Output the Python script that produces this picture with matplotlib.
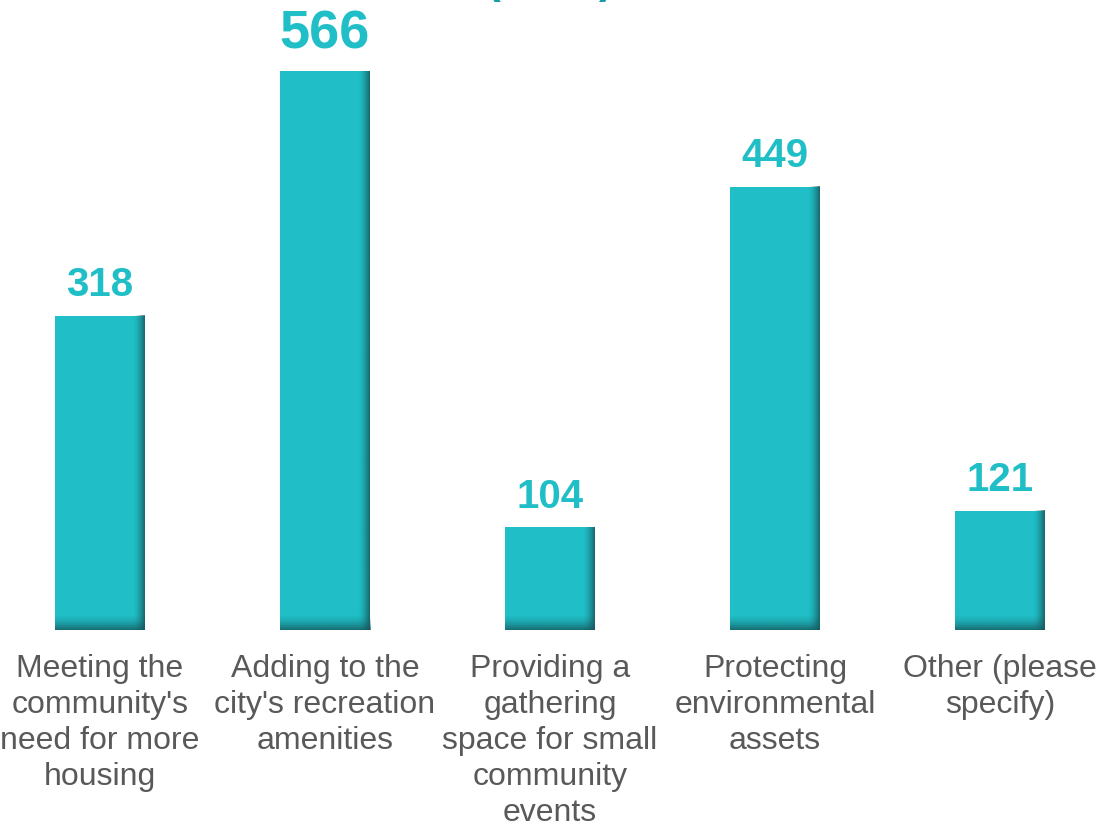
import numpy as np
import matplotlib
matplotlib.use('Agg')
import matplotlib.pyplot as plt
from matplotlib.colors import to_rgb

# ── Data ──────────────────────────────────────────────────
categories = [
    "Meeting the\ncommunity's\nneed for more\nhousing",
    "Adding to the\ncity's recreation\namenities",
    "Providing a\ngathering\nspace for small\ncommunity\nevents",
    "Protecting\nenvironmental\nassets",
    "Other (please\nspecify)",
]
values = [318, 566, 104, 449, 121]
title_text = "(1558)"

BAR_COLOR  = '#20BEC6'
SHADE      = '#15575C'
LABEL_GRAY = '#595959'

plt.rcParams['font.family'] = ['Liberation Sans', 'DejaVu Sans']

fig = plt.figure(figsize=(11.01, 8.26), dpi=100)
ax = fig.add_axes([0, 196 / 826, 1, 630 / 826])

x = np.arange(len(values))
bars = ax.bar(x, values, width=0.4, color=BAR_COLOR, zorder=2)

# ── Bevel shading on right and bottom edges ───────────────
shade_rgb = to_rgb(SHADE)
n = 64
ramp = np.linspace(0, 1, n) ** 1.6
h_grad = np.zeros((1, n, 4))
h_grad[..., :3] = shade_rgb
h_grad[0, :, 3] = ramp * 0.85
v_grad = np.zeros((n, 1, 4))
v_grad[..., :3] = shade_rgb
v_grad[:, 0, 3] = ramp * 0.8

for b in bars:
    x0, w, h = b.get_x(), b.get_width(), b.get_height()
    sw = 12 / 225
    sh = 16 / 0.9876
    ax.imshow(h_grad, extent=[x0 + w - sw, x0 + w, 0, h], aspect='auto',
              interpolation='bilinear', zorder=3)
    ax.imshow(v_grad, extent=[x0, x0 + w, 0, min(sh, h)], aspect='auto',
              interpolation='bilinear', origin='upper', zorder=3)

ax.set_xlim(-100 / 225, len(values) - 1 + 101 / 225)
ax.set_ylim(0, 630 / 0.9876)

# ── Value labels ──────────────────────────────────────────
top = max(values)
for xi, v in zip(x, values):
    big = v == top
    ax.annotate(f'{v}', (xi, v), xytext=(0, 16.5 if big else 14),
                textcoords='offset points', ha='center', va='baseline',
                fontsize=39 if big else 29, fontweight='bold',
                color=BAR_COLOR, zorder=4)

# ── Axes styling ──────────────────────────────────────────
ax.set_xticks(x)
ax.set_xticklabels(categories, fontsize=23, color=LABEL_GRAY,
                   linespacing=1.27)
ax.tick_params(axis='x', length=0, pad=17)
ax.set_yticks([])
for s in ax.spines.values():
    s.set_visible(False)
ax.patch.set_alpha(0)

# title sits mostly above the canvas, only the parentheses' tails show
fig.text(0.4995, 1 + 7 / 826, title_text, ha='center', va='baseline',
         fontsize=32, fontweight='bold', color='#1A9EA5')

fig.savefig('out.png', dpi=100)
